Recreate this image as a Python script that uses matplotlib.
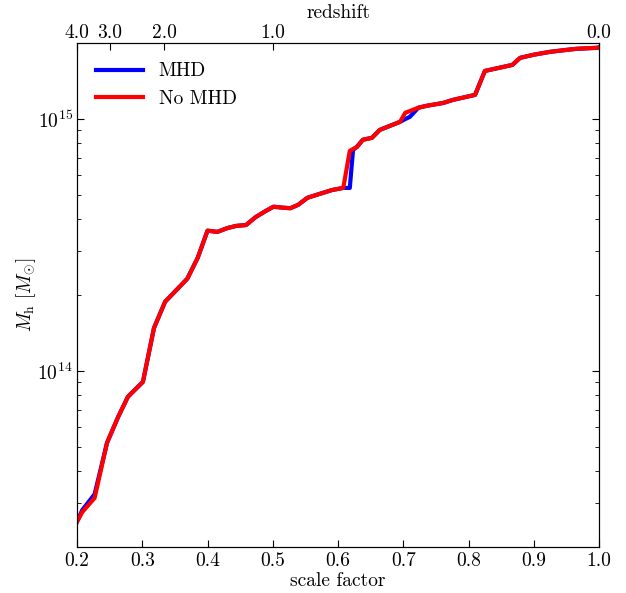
import matplotlib
matplotlib.use('Agg')
import matplotlib.pyplot as plt
import numpy as np

plt.rcParams['font.family'] = 'serif'
plt.rcParams['font.serif'] = ['cmr10', 'DejaVu Serif']
plt.rcParams['mathtext.fontset'] = 'cm'
plt.rcParams['axes.formatter.use_mathtext'] = True
plt.rcParams['axes.unicode_minus'] = False

# scale factor of each snapshot
scale_factor = [0.200, 0.208, 0.227, 0.246, 0.263, 0.278, 0.301, 0.318, 0.335,
                0.369, 0.385, 0.400, 0.415, 0.431, 0.444, 0.459, 0.474, 0.490,
                0.501, 0.516, 0.527, 0.539, 0.553, 0.572, 0.591, 0.608, 0.618,
                0.623, 0.629, 0.638, 0.652, 0.664, 0.695, 0.703, 0.710, 0.723,
                0.736, 0.761, 0.776, 0.810, 0.825, 0.867, 0.879, 0.899, 0.925,
                0.951, 0.966, 0.997, 1.000]

# halo mass in units of 1e14 Msun
mass_mhd = [0.252, 0.280, 0.324, 0.518, 0.656, 0.789, 0.904, 1.48, 1.88,
            2.32, 2.81, 3.60, 3.56, 3.69, 3.76, 3.79, 4.08, 4.32,
            4.48, 4.44, 4.42, 4.56, 4.86, 5.04, 5.22, 5.32, 5.32,
            7.53, 7.74, 8.26, 8.41, 9.04, 9.73, 9.98, 10.18, 11.07,
            11.27, 11.56, 11.89, 12.45, 15.49, 16.37, 17.46, 17.95, 18.45,
            18.79, 18.97, 19.14, 19.23]
mass_nomhd = [0.252, 0.275, 0.313, 0.518, 0.656, 0.789, 0.904, 1.48, 1.88,
              2.32, 2.81, 3.60, 3.56, 3.69, 3.76, 3.79, 4.08, 4.32,
              4.48, 4.44, 4.42, 4.56, 4.86, 5.04, 5.22, 5.32, 7.46,
              7.59, 7.74, 8.26, 8.41, 9.04, 9.73, 10.57, 10.74, 11.07,
              11.27, 11.56, 11.89, 12.45, 15.49, 16.37, 17.46, 17.95, 18.45,
              18.79, 18.97, 19.14, 19.23]

redshift_ticks = [4.0, 3.0, 2.0, 1.0, 0.0]

a = np.array(scale_factor)
m1 = np.array(mass_mhd) * 1e14
m2 = np.array(mass_nomhd) * 1e14

fs = 14

fig = plt.figure(figsize=(6.26, 5.93), dpi=100)
ax = fig.add_axes([0.123, 0.0776, 0.834, 0.8499])

ax.plot(a, m1, color='#0000ff', lw=3, label='MHD')
ax.plot(a, m2, color='#ff0000', lw=3, label='No MHD')

ax.set_yscale('log')
ax.set_xlim(0.2, 1.0)
ax.set_ylim(2e13, 2e15)
ax.set_xticks(np.arange(0.2, 1.01, 0.1))
ax.set_xticklabels(['%.1f' % v for v in np.arange(0.2, 1.01, 0.1)])
ax.set_xlabel('scale factor', fontsize=fs, labelpad=1)
ax.set_ylabel(r'$M_{\rm h}\ [M_{\odot}]$', fontsize=fs)
ax.yaxis.set_label_coords(-0.075, 0.5)
ax.tick_params(which='both', direction='in', labelsize=fs, right=True)
ax.tick_params(which='major', length=5)
ax.tick_params(which='minor', length=3)
ax.tick_params(axis='x', which='major', top=False, pad=4)
ax.tick_params(axis='y', which='major', pad=3)

leg = ax.legend(loc='upper left', frameon=False, fontsize=fs, handlelength=2.4,
                borderaxespad=0.6)

# top axis with redshift
ax2 = ax.twiny()
ax2.set_xlim(ax.get_xlim())
ax2.set_xticks([1.0 / (1.0 + z) for z in redshift_ticks])
ax2.set_xticklabels(['%.1f' % z for z in redshift_ticks])
ax2.tick_params(direction='in', labelsize=fs, length=5, pad=1)
ax2.set_xlabel('redshift', fontsize=fs, labelpad=4)

plt.savefig('out.png', dpi=100)
